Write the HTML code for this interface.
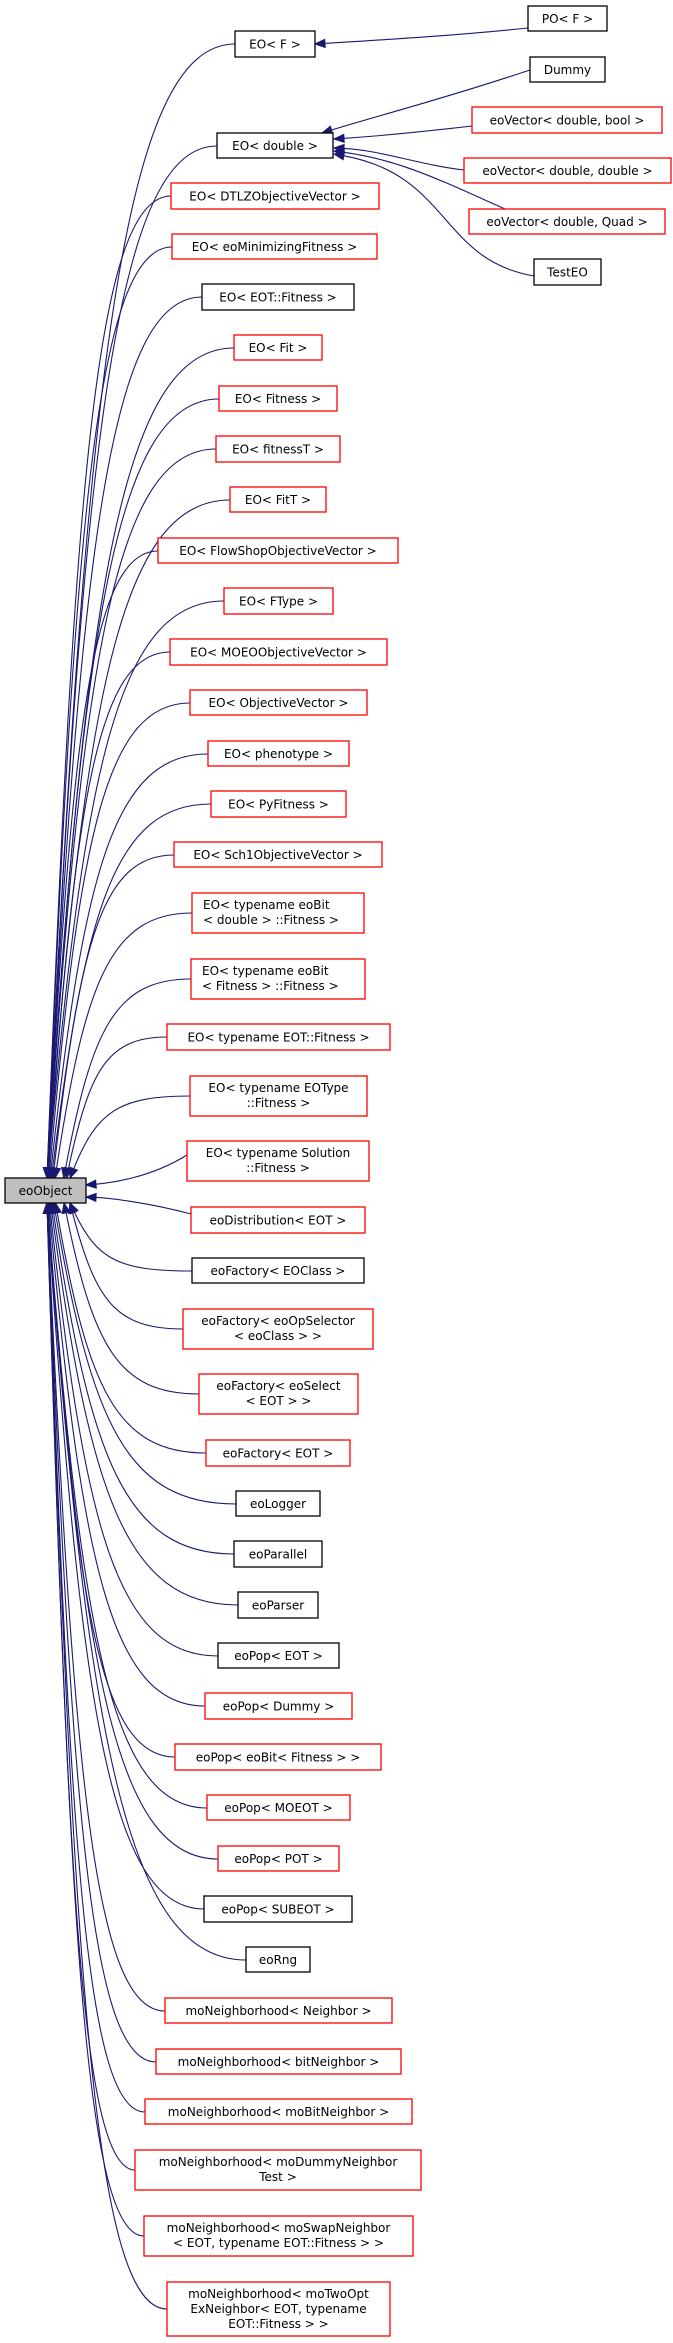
<!DOCTYPE html>
<html><head><meta charset="utf-8"><style>
html,body{margin:0;padding:0;background:#fff;}
svg{display:block;}
text{font-family:"DejaVu Sans","Liberation Sans",sans-serif;font-size:12px;fill:#000;}
</style></head><body>
<svg id="s" width="673" height="2343" viewBox="0 0 673 2343" xmlns="http://www.w3.org/2000/svg">
<g id="edges" fill="none" stroke="#191970" stroke-width="1.1"></g>
<g id="heads" fill="#191970" stroke="#191970"></g>
<g id="boxes" stroke-width="1.3">
<rect x="5" y="1178" width="81" height="25" fill="#bfbfbf" stroke="#000"/>
<text x="45.5" y="1195" text-anchor="middle">eoObject</text>

<rect x="528" y="6" width="79" height="25" fill="#fff" stroke="#000"/><text x="567.5" y="23" text-anchor="middle">PO&lt; F &gt;</text>
<rect x="235" y="31" width="80" height="26" fill="#fff" stroke="#000"/><text x="275" y="48.5" text-anchor="middle">EO&lt; F &gt;</text>
<rect x="530" y="57" width="75" height="25" fill="#fff" stroke="#000"/><text x="567.5" y="74" text-anchor="middle">Dummy</text>
<rect x="472" y="107" width="190" height="26" fill="#fff" stroke="#f00"/><text x="567" y="124.5" text-anchor="middle">eoVector&lt; double, bool &gt;</text>
<rect x="217" y="133" width="116" height="25" fill="#fff" stroke="#000"/><text x="275" y="150" text-anchor="middle">EO&lt; double &gt;</text>
<rect x="464" y="158" width="207" height="25" fill="#fff" stroke="#f00"/><text x="567.5" y="175" text-anchor="middle">eoVector&lt; double, double &gt;</text>
<rect x="469" y="209" width="196" height="25" fill="#fff" stroke="#f00"/><text x="567" y="226" text-anchor="middle">eoVector&lt; double, Quad &gt;</text>
<rect x="534" y="259" width="67" height="26" fill="#fff" stroke="#000"/><text x="567.5" y="276.5" text-anchor="middle">TestEO</text>

<rect x="171" y="183" width="208" height="26" fill="#fff" stroke="#f00"/><text x="275" y="200.5" text-anchor="middle">EO&lt; DTLZObjectiveVector &gt;</text>
<rect x="172" y="234" width="205" height="25" fill="#fff" stroke="#f00"/><text x="274.5" y="251" text-anchor="middle">EO&lt; eoMinimizingFitness &gt;</text>
<rect x="202" y="284" width="152" height="26" fill="#fff" stroke="#000"/><text x="278" y="301.5" text-anchor="middle">EO&lt; EOT::Fitness &gt;</text>
<rect x="234" y="335" width="88" height="25" fill="#fff" stroke="#f00"/><text x="278" y="352" text-anchor="middle">EO&lt; Fit &gt;</text>
<rect x="219" y="386" width="118" height="25" fill="#fff" stroke="#f00"/><text x="278" y="403" text-anchor="middle">EO&lt; Fitness &gt;</text>
<rect x="216" y="436" width="124" height="26" fill="#fff" stroke="#f00"/><text x="278" y="453.5" text-anchor="middle">EO&lt; fitnessT &gt;</text>
<rect x="230" y="487" width="96" height="25" fill="#fff" stroke="#f00"/><text x="278" y="504" text-anchor="middle">EO&lt; FitT &gt;</text>
<rect x="158" y="538" width="240" height="25" fill="#fff" stroke="#f00"/><text x="278" y="555" text-anchor="middle">EO&lt; FlowShopObjectiveVector &gt;</text>
<rect x="224" y="588" width="109" height="26" fill="#fff" stroke="#f00"/><text x="278.5" y="605.5" text-anchor="middle">EO&lt; FType &gt;</text>
<rect x="170" y="639" width="217" height="26" fill="#fff" stroke="#f00"/><text x="278.5" y="656.5" text-anchor="middle">EO&lt; MOEOObjectiveVector &gt;</text>
<rect x="190" y="690" width="177" height="25" fill="#fff" stroke="#f00"/><text x="278.5" y="707" text-anchor="middle">EO&lt; ObjectiveVector &gt;</text>
<rect x="208" y="741" width="141" height="25" fill="#fff" stroke="#f00"/><text x="278.5" y="758" text-anchor="middle">EO&lt; phenotype &gt;</text>
<rect x="211" y="791" width="135" height="26" fill="#fff" stroke="#f00"/><text x="278.5" y="808.5" text-anchor="middle">EO&lt; PyFitness &gt;</text>
<rect x="174" y="842" width="208" height="25" fill="#fff" stroke="#f00"/><text x="278" y="859" text-anchor="middle">EO&lt; Sch1ObjectiveVector &gt;</text>
<rect x="192" y="893" width="172" height="40" fill="#fff" stroke="#f00"/><text x="203" y="909">EO&lt; typename eoBit</text><text x="203" y="924">&lt; double &gt; ::Fitness &gt;</text>
<rect x="191" y="959" width="174" height="40" fill="#fff" stroke="#f00"/><text x="202" y="975">EO&lt; typename eoBit</text><text x="202" y="990">&lt; Fitness &gt; ::Fitness &gt;</text>
<rect x="167" y="1024" width="223" height="26" fill="#fff" stroke="#f00"/><text x="278.5" y="1041.5" text-anchor="middle">EO&lt; typename EOT::Fitness &gt;</text>
<rect x="190" y="1076" width="177" height="40" fill="#fff" stroke="#f00"/><text x="278.5" y="1092" text-anchor="middle">EO&lt; typename EOType</text><text x="278.5" y="1107" text-anchor="middle">::Fitness &gt;</text>
<rect x="187" y="1141" width="182" height="40" fill="#fff" stroke="#f00"/><text x="278" y="1157" text-anchor="middle">EO&lt; typename Solution</text><text x="278" y="1172" text-anchor="middle">::Fitness &gt;</text>
<rect x="191" y="1207" width="174" height="26" fill="#fff" stroke="#f00"/><text x="278" y="1224.5" text-anchor="middle">eoDistribution&lt; EOT &gt;</text>
<rect x="192" y="1258" width="172" height="25" fill="#fff" stroke="#000"/><text x="278" y="1275" text-anchor="middle">eoFactory&lt; EOClass &gt;</text>
<rect x="183" y="1309" width="190" height="40" fill="#fff" stroke="#f00"/><text x="278" y="1325" text-anchor="middle">eoFactory&lt; eoOpSelector</text><text x="278" y="1340" text-anchor="middle">&lt; eoClass &gt; &gt;</text>
<rect x="199" y="1374" width="159" height="40" fill="#fff" stroke="#f00"/><text x="278.5" y="1390" text-anchor="middle">eoFactory&lt; eoSelect</text><text x="278.5" y="1405" text-anchor="middle">&lt; EOT &gt; &gt;</text>
<rect x="206" y="1440" width="144" height="26" fill="#fff" stroke="#f00"/><text x="278" y="1457.5" text-anchor="middle">eoFactory&lt; EOT &gt;</text>
<rect x="236" y="1491" width="84" height="25" fill="#fff" stroke="#000"/><text x="278" y="1508" text-anchor="middle">eoLogger</text>
<rect x="234" y="1541" width="88" height="26" fill="#fff" stroke="#000"/><text x="278" y="1558.5" text-anchor="middle">eoParallel</text>
<rect x="238" y="1592" width="80" height="26" fill="#fff" stroke="#000"/><text x="278" y="1609.5" text-anchor="middle">eoParser</text>
<rect x="218" y="1643" width="121" height="25" fill="#fff" stroke="#000"/><text x="278.5" y="1660" text-anchor="middle">eoPop&lt; EOT &gt;</text>
<rect x="205" y="1693" width="147" height="26" fill="#fff" stroke="#f00"/><text x="278.5" y="1710.5" text-anchor="middle">eoPop&lt; Dummy &gt;</text>
<rect x="175" y="1744" width="206" height="26" fill="#fff" stroke="#f00"/><text x="278" y="1761.5" text-anchor="middle">eoPop&lt; eoBit&lt; Fitness &gt; &gt;</text>
<rect x="207" y="1795" width="143" height="25" fill="#fff" stroke="#f00"/><text x="278.5" y="1812" text-anchor="middle">eoPop&lt; MOEOT &gt;</text>
<rect x="218" y="1846" width="121" height="25" fill="#fff" stroke="#f00"/><text x="278.5" y="1863" text-anchor="middle">eoPop&lt; POT &gt;</text>
<rect x="204" y="1896" width="148" height="26" fill="#fff" stroke="#000"/><text x="278" y="1913.5" text-anchor="middle">eoPop&lt; SUBEOT &gt;</text>
<rect x="246" y="1947" width="64" height="25" fill="#fff" stroke="#000"/><text x="278" y="1964" text-anchor="middle">eoRng</text>
<rect x="165" y="1998" width="227" height="25" fill="#fff" stroke="#f00"/><text x="278.5" y="2015" text-anchor="middle">moNeighborhood&lt; Neighbor &gt;</text>
<rect x="156" y="2049" width="245" height="25" fill="#fff" stroke="#f00"/><text x="278.5" y="2066" text-anchor="middle">moNeighborhood&lt; bitNeighbor &gt;</text>
<rect x="145" y="2099" width="267" height="25" fill="#fff" stroke="#f00"/><text x="278.5" y="2116" text-anchor="middle">moNeighborhood&lt; moBitNeighbor &gt;</text>
<rect x="135" y="2150" width="286" height="40" fill="#fff" stroke="#f00"/><text x="278" y="2166" text-anchor="middle">moNeighborhood&lt; moDummyNeighbor</text><text x="278" y="2181" text-anchor="middle">Test &gt;</text>
<rect x="144" y="2216" width="269" height="40" fill="#fff" stroke="#f00"/><text x="278.5" y="2232" text-anchor="middle">moNeighborhood&lt; moSwapNeighbor</text><text x="278.5" y="2247" text-anchor="middle">&lt; EOT, typename EOT::Fitness &gt; &gt;</text>
<rect x="167" y="2282" width="223" height="54" fill="#fff" stroke="#f00"/><text x="278.5" y="2298" text-anchor="middle">moNeighborhood&lt; moTwoOpt</text><text x="278.5" y="2313" text-anchor="middle">ExNeighbor&lt; EOT, typename</text><text x="278.5" y="2328" text-anchor="middle">EOT::Fitness &gt; &gt;</text>
</g>
</svg>
<script>
(function(){
var E=document.getElementById('edges'),H=document.getElementById('heads'),NS='http://www.w3.org/2000/svg';
function edge(x0,y0,c1x,c1y,c2x,c2y,tx,ty){
 var dx=tx-c2x,dy=ty-c2y,l=Math.sqrt(dx*dx+dy*dy)||1;dx/=l;dy/=l;
 var L=10,W=4,bx=tx-dx*L,by=ty-dy*L;
 var p=document.createElementNS(NS,'path');
 p.setAttribute('d','M'+x0+','+y0+' C'+c1x+','+c1y+' '+c2x+','+c2y+' '+bx+','+by);E.appendChild(p);
 var g=document.createElementNS(NS,'polygon');
 g.setAttribute('points',tx+','+ty+' '+(bx-dy*W)+','+(by+dx*W)+' '+(bx+dy*W)+','+(by-dx*W));H.appendChild(g);
}
edge(528,28,450,36,380,40,315,44);
edge(530,70,440,100,380,115,322,133);
edge(472,126,420,132,380,136,334,139);
edge(464,170,420,165,380,150,334,148);
edge(505,209,440,180,400,160,334,151);
edge(534,276,440,260,450,175,334,154);
var ch=[[235,44],[217,146],[171,196],[172,247],[202,297],[234,348],[219,399],[216,449],[230,500],[158,551],[224,601],[170,652],[190,703],[208,754],[211,804],[174,855],[192,913],[191,979],[167,1037],[190,1096],[187,1161],[191,1220],[192,1271],[183,1329],[199,1394],[206,1453],[236,1504],[234,1554],[238,1605],[218,1656],[205,1706],[175,1757],[207,1808],[218,1859],[204,1909],[246,1960],[165,2011],[156,2062],[145,2112],[135,2170],[144,2236],[167,2309]];
ch.forEach(function(c){var x0=c[0],y0=c[1];
 if(y0>1140&&y0<1175){edge(x0,y0-6,150,1178,110,1183,86,1185);return;}
 if(y0>1205&&y0<1240){edge(x0,y0-6,150,1203,110,1198,86,1197);return;}
 var above=y0<1190,d=Math.abs(1190-y0);
 var f=Math.max(0,1-d/700);
 var tx=47+22*f*f+(d<250?6:0), ty=above?1178:1203;
 if(d<150){tx=70;}
 var s=above?1:-1;
 var c1x=x0-(x0-tx)*0.6, c1y=y0;
 var c2x=tx+(x0-tx)*0.18+5, c2y=ty-s*d*0.7;
 edge(x0,y0,c1x,c1y,c2x,c2y,tx,ty);
});
})();
</script>
</body></html>
